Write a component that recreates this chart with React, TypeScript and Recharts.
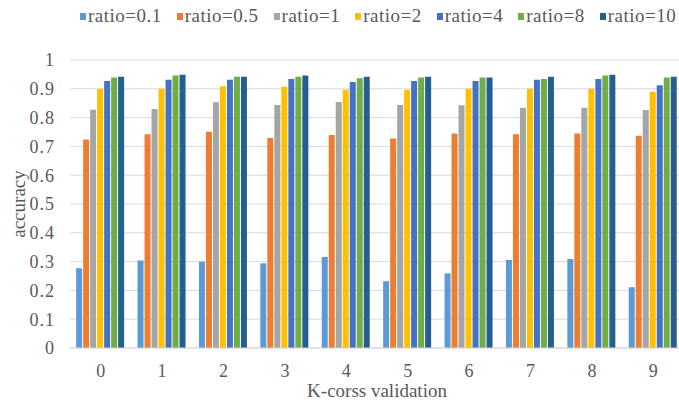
import { Bar, BarChart, CartesianGrid, Legend, XAxis, YAxis } from "recharts";

const folds = ["0", "1", "2", "3", "4", "5", "6", "7", "8", "9"];
const yTicks = [0, 0.1, 0.2, 0.3, 0.4, 0.5, 0.6, 0.7, 0.8, 0.9, 1];

const ratio01 = [0.277, 0.304, 0.3, 0.294, 0.316, 0.232, 0.259, 0.306, 0.309, 0.211];
const ratio05 = [0.724, 0.742, 0.751, 0.729, 0.74, 0.727, 0.745, 0.742, 0.745, 0.737];
const ratio1 = [0.827, 0.83, 0.853, 0.844, 0.854, 0.844, 0.843, 0.834, 0.834, 0.826];
const ratio2 = [0.9, 0.9, 0.909, 0.907, 0.897, 0.897, 0.9, 0.9, 0.9, 0.89];
const ratio4 = [0.927, 0.931, 0.931, 0.934, 0.924, 0.927, 0.927, 0.931, 0.934, 0.912];
const ratio8 = [0.939, 0.946, 0.942, 0.942, 0.937, 0.939, 0.939, 0.934, 0.946, 0.939];
const ratio10 = [0.942, 0.949, 0.942, 0.946, 0.942, 0.942, 0.939, 0.942, 0.949, 0.942];

const seriesNames = ["ratio=0.1", "ratio=0.5", "ratio=1", "ratio=2", "ratio=4", "ratio=8", "ratio=10"];
const seriesValues = [ratio01, ratio05, ratio1, ratio2, ratio4, ratio8, ratio10];
const colors = ["#5B9BD5", "#ED7D31", "#A5A5A5", "#FFC000", "#4472C4", "#70AD47", "#255E91"];

const data = folds.map((k, i) => {
  const row: Record<string, string | number> = { fold: k };
  seriesNames.forEach((name, s) => {
    row[name] = seriesValues[s][i];
  });
  return row;
});

const font = "'Liberation Serif', 'Times New Roman', serif";
const textColor = "#595959";

// legend drawn in series order (recharts sorts its payload by name otherwise)
function LegendBox() {
  return (
    <div style={{ display: "flex", fontFamily: font, fontSize: 19, letterSpacing: 0.5, color: textColor, lineHeight: "20px" }}>
      {seriesNames.map((name, s) => (
        <div key={name} style={{ display: "flex", alignItems: "center", marginRight: 15 }}>
          <span style={{ width: 6, height: 7, background: colors[s], marginRight: 2, display: "inline-block" }} />
          <span>{name}</span>
        </div>
      ))}
    </div>
  );
}

export default function App() {
  return (
    <div style={{ position: "absolute", left: 0, top: 0, width: 679, height: 400, overflow: "hidden", background: "#fff" }}>
      <BarChart
        width={684}
        height={400}
        data={data}
        margin={{ top: 40, right: 0, bottom: 0, left: 0 }}
        barCategoryGap="10%"
        barGap={1}
      >
        <CartesianGrid vertical={false} stroke="#d9d9d9" />
        <XAxis
          dataKey="fold"
          height={52}
          axisLine={{ stroke: "#d9d9d9" }}
          tickLine={false}
          tickMargin={10}
          tick={{ fill: textColor, fontFamily: font, fontSize: 18 }}
          label={{ value: "K-corss validation", position: "insideBottom", offset: 3, fill: textColor, fontFamily: font, fontSize: 19 }}
        />
        <YAxis
          width={70}
          domain={[0, 1]}
          ticks={yTicks}
          axisLine={false}
          tickLine={false}
          tickMargin={9}
          tick={{ fill: textColor, fontFamily: font, fontSize: 18, letterSpacing: 1 }}
          label={{ value: "accuracy", angle: -90, position: "center", dx: -17, fill: textColor, fontFamily: font, fontSize: 19 }}
        />
        <Legend verticalAlign="top" align="left" wrapperStyle={{ top: 6, left: 80 }} content={<LegendBox />} />
        {seriesNames.map((name, s) => (
          <Bar key={name} dataKey={name} fill={colors[s]} isAnimationActive={false} />
        ))}
      </BarChart>
    </div>
  );
}
